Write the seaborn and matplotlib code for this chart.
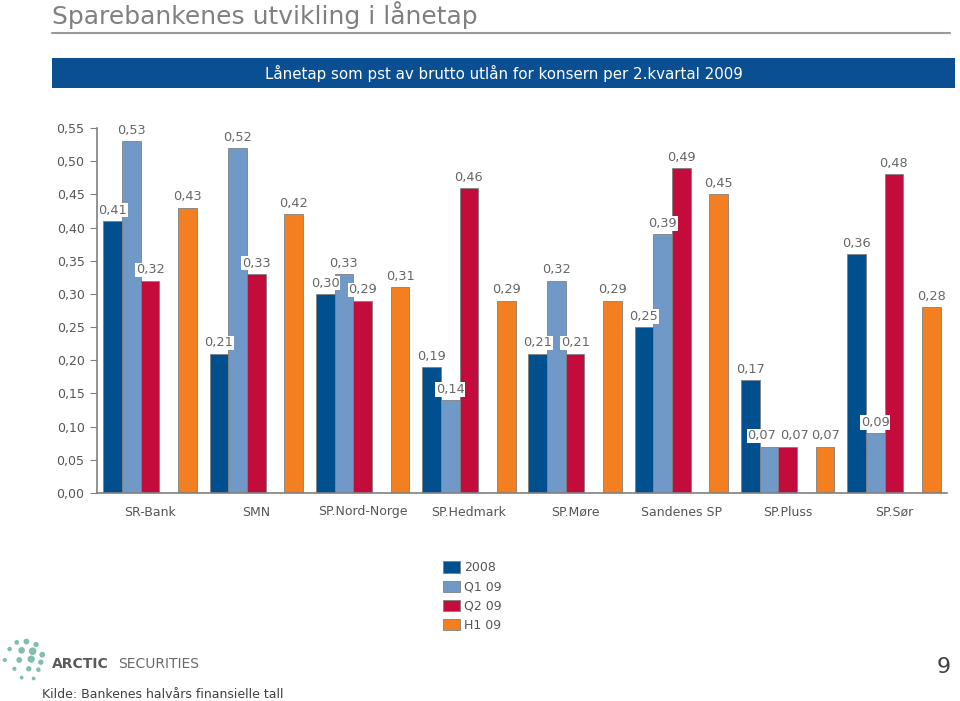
import numpy as np
import pandas as pd
import seaborn as sns
import matplotlib.pyplot as plt
from matplotlib.patches import Rectangle, Patch
from matplotlib.lines import Line2D

# Loan losses as pct of gross lending, per bank
banks = ["SR-Bank", "SMN", "SP.Nord-Norge", "SP.Hedmark", "SP.Møre",
         "Sandenes SP", "SP.Pluss", "SP.Sør"]
v2008 = [0.41, 0.21, 0.30, 0.19, 0.21, 0.25, 0.17, 0.36]
q1_09 = [0.53, 0.52, 0.33, 0.14, 0.32, 0.39, 0.07, 0.09]
q2_09 = [0.32, 0.33, 0.29, 0.46, 0.21, 0.49, 0.07, 0.48]
h1_09 = [0.43, 0.42, 0.31, 0.29, 0.29, 0.45, 0.07, 0.28]
series = ["2008", "Q1 09", "Q2 09", "H1 09"]
colors = ["#00508F", "#7099C8", "#C40C3C", "#F47F20"]

rows = []
for name, vals in zip(series, [v2008, q1_09, q2_09, h1_09]):
    for b, v in zip(banks, vals):
        rows.append({"bank": b, "serie": name, "verdi": v})
df = pd.DataFrame(rows)

# the original leaves an empty slot between Q2 09 and H1 09
hue_order = ["2008", "Q1 09", "Q2 09", "_tom", "H1 09"]
palette = dict(zip(series, colors))
palette["_tom"] = "white"

sns.set_style("white")
plt.rcParams["font.family"] = ["DejaVu Sans"]

fig = plt.figure(figsize=(9.6, 7.01), dpi=100)
ax = fig.add_axes([97 / 960, 1 - 493 / 701, 850 / 960, 365 / 701])

sns.barplot(data=df, x="bank", y="verdi", hue="serie", hue_order=hue_order,
            order=banks, palette=palette, width=0.88, saturation=1,
            edgecolor="#808080", linewidth=0.6, legend=False, ax=ax)

for k, cont in enumerate(ax.containers):
    vals = cont.datavalues
    anns = ax.bar_label(cont, labels=[f"{v:.2f}".replace(".", ",") for v in vals],
                        padding=3, fontsize=9.3, color="#666666",
                        bbox=dict(facecolor="white", edgecolor="none", pad=0.5))
    # nudge the three equal SP.Pluss labels apart, as in the original
    if k == 1:
        anns[6].xyann = (-5, 3)
    if k == 2:
        anns[6].xyann = (5, 3)

ticks = np.arange(0, 0.551, 0.05)
ax.set_ylim(0, 0.55)
ax.set_yticks(ticks)
ax.set_yticklabels([f"{t:.2f}".replace(".", ",") for t in ticks])
ax.set_xlabel("")
ax.set_ylabel("")
sns.despine(ax=ax)
for s in ["left", "bottom"]:
    ax.spines[s].set_color("#808080")
    ax.spines[s].set_linewidth(1.2)
ax.tick_params(axis="y", left=True, length=5, color="#808080", labelsize=9,
               labelcolor="#555555", pad=4)
ax.tick_params(axis="x", length=0, labelsize=9, labelcolor="#555555", pad=9)

# legend
handles = [Patch(facecolor=c, edgecolor="#808080", linewidth=0.6) for c in colors]
fig.legend(handles, series, loc="upper left", bbox_to_anchor=(432 / 960, 1 - 550 / 701),
           frameon=False, fontsize=9, labelcolor="#555555", handlelength=1.3,
           handleheight=1.0, handletextpad=0.4, labelspacing=0.5)

# header
fig.text(52 / 960, 1 - 24 / 701, "Sparebankenes utvikling i lånetap",
         fontsize=18, color="#808080", va="baseline", ha="left")
fig.add_artist(Line2D([52 / 960, 950 / 960], [1 - 33 / 701] * 2, color="#9A9A9A",
                      linewidth=1.5))
fig.add_artist(Rectangle((52 / 960, 1 - 88 / 701), 903 / 960, 30 / 701,
                         facecolor="#0A4F92", edgecolor="none"))
fig.text(504 / 960, 1 - 73 / 701, "Lånetap som pst av brutto utlån for konsern per 2.kvartal 2009",
         fontsize=10.8, color="white", ha="center", va="center")

# footer
logo = fig.add_axes([0, 1 - 682 / 701, 48 / 960, 44 / 701])
dx = [0.35, 0.55, 0.75, 0.2, 0.45, 0.68, 0.88, 0.1, 0.4, 0.65, 0.85, 0.3, 0.6, 0.8, 0.45, 0.7]
dy = [0.9, 0.92, 0.85, 0.75, 0.72, 0.7, 0.62, 0.5, 0.5, 0.52, 0.45, 0.3, 0.3, 0.28, 0.1, 0.08]
ds = [6, 10, 8, 5, 14, 20, 10, 4, 10, 18, 8, 4, 8, 5, 3, 3]
logo.scatter(dx, dy, s=ds, color="#7FBFAE")
logo.set_xlim(0, 1)
logo.set_ylim(0, 1)
logo.axis("off")
fig.text(52 / 960, 1 - 664 / 701, "ARCTIC", fontsize=10, fontweight="bold",
         color="#5A5A5A", va="center")
fig.text(118 / 960, 1 - 664 / 701, "SECURITIES", fontsize=10,
         color="#6A6A6A", va="center")
fig.text(944 / 960, 1 - 667 / 701, "9", fontsize=16, color="#404040",
         ha="center", va="center")
fig.text(42 / 960, 1 - 694 / 701, "Kilde: Bankenes halvårs finansielle tall",
         fontsize=9, color="#404040", va="center")

fig.savefig("out.png", dpi=100)
